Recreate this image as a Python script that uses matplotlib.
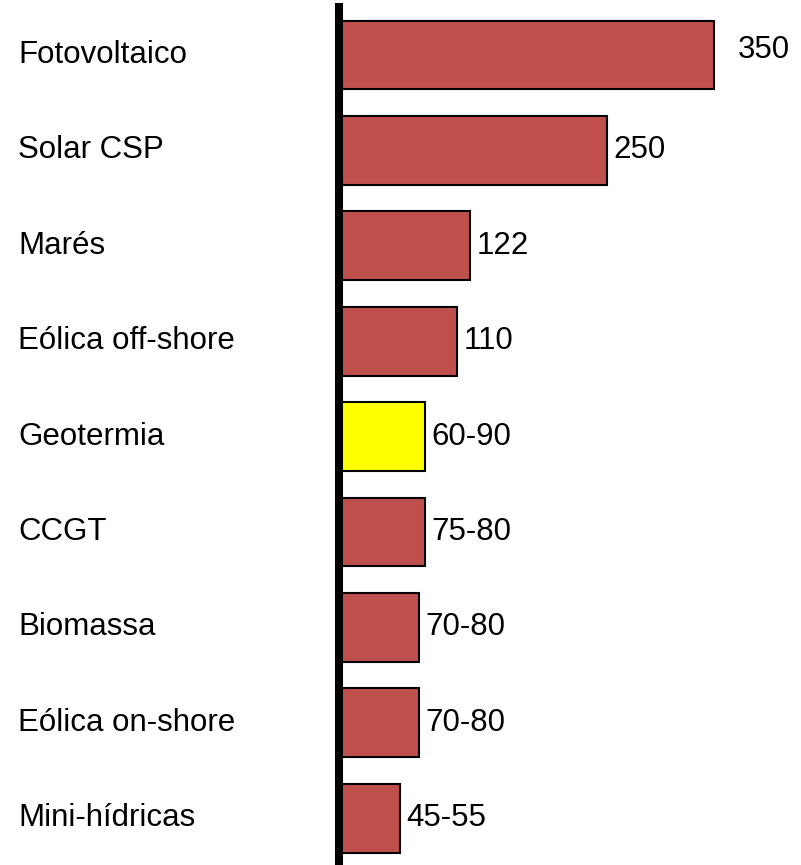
import matplotlib.pyplot as plt
from matplotlib.transforms import blended_transform_factory

# data
categories = ["Fotovoltaico", "Solar CSP", "Marés", "Eólica off-shore", "Geotermia",
              "CCGT", "Biomassa", "Eólica on-shore", "Mini-hídricas"]
values = [350, 250, 122, 110, 80, 80, 75, 75, 57]
value_labels = ["350", "250", "122", "110", "60-90", "75-80", "70-80", "70-80", "45-55"]
highlight = "Geotermia"

RED = "#C0504D"
YELLOW = "#FFFF00"
FS = 22.5

plt.rcParams["font.family"] = ["Liberation Sans", "DejaVu Sans"]

W, H = 801, 865
fig = plt.figure(figsize=(W / 100, H / 100), dpi=100)
ax = fig.add_axes([339 / W, 0, 1 - 339 / W, 1 - 7 / H])

ypos = list(range(len(categories)))
colors = [YELLOW if c == highlight else RED for c in categories]
ax.barh(ypos, values, height=0.72, color=colors, edgecolor="black", linewidth=1.5, zorder=2)

ax.set_xlim(0, 431)
ax.set_ylim(8.49, -0.503)

for s in ["top", "right", "bottom"]:
    ax.spines[s].set_visible(False)
ax.spines["left"].set_linewidth(5.8)
ax.spines["left"].set_zorder(3)
ax.set_xticks([])
ax.set_yticks([])

# category names, left aligned at the figure edge
trans = blended_transform_factory(fig.transFigure, ax.transData)
for y, name in zip(ypos, categories):
    ax.text(18 / W, y, name, transform=trans, ha="left", va="center", fontsize=FS)

# value labels next to the bars
for y, v, lab in zip(ypos, values, value_labels):
    if y == 0:
        ax.text(v + 22, y - 0.05, lab, ha="left", va="center", fontsize=FS)
    else:
        ax.text(v + 6, y, lab, ha="left", va="center", fontsize=FS)

fig.savefig("out.png", dpi=100)
